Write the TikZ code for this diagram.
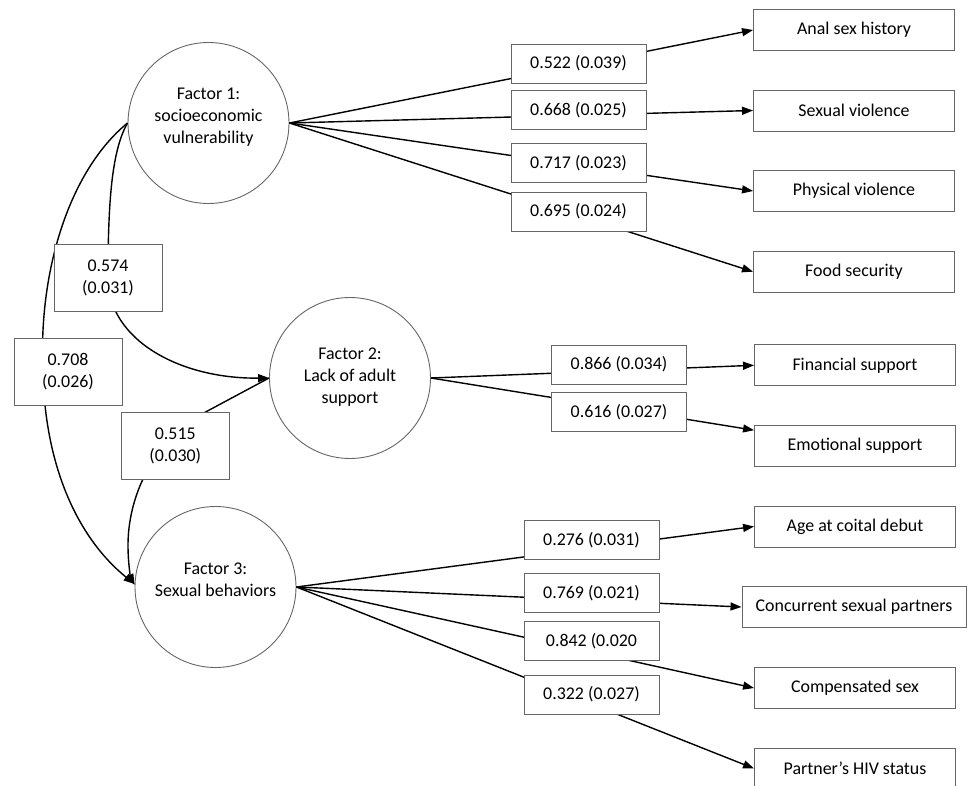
\documentclass[tikz,border=0pt]{standalone}
\usepackage{fontspec}
\setmainfont{Carlito}
\usetikzlibrary{arrows.meta}
\tikzset{
  every node/.style={font=\fontsize{17.9}{22}\selectfont},
  latent/.style={circle, draw=black!60, line width=0.9pt, minimum size=161pt, inner sep=0pt},
  ctext/.style={align=center, inner sep=0pt},
  obs/.style={rectangle, draw=black!60, line width=0.9pt, fill=white, minimum width=201pt, minimum height=41pt, inner sep=0pt},
  lab/.style={rectangle, draw=black!60, line width=0.9pt, fill=white, minimum width=135pt, minimum height=39pt, inner sep=0pt},
  labtwo/.style={rectangle, draw=black!60, line width=0.9pt, fill=white, minimum width=108pt, minimum height=67pt, inner sep=0pt, align=center},
  conn/.style={line width=1.4pt, black},
  arr/.style={conn, -{Triangle[length=11pt,width=8pt]}}
}
\begin{document}
\begin{tikzpicture}[x=1pt,y=-1pt]
\useasboundingbox (0,0) rectangle (967,786);
% latent factors
\node[latent] (f1) at (208.5,123) {};
\node[ctext] (f1t) at (208.5,117) {Factor 1:\\socioeconomic\\vulnerability};
\node[latent] (f2) at (350,378) {};
\node[ctext] (f2t) at (350,377.5) {Factor 2:\\Lack of adult\\support};
\node[latent] (f3) at (215.5,587) {};
\node[ctext] (f3t) at (215.5,580) {Factor 3:\\Sexual behaviors};
% observed
\node[obs] (anal) at (854,30) {Anal sex history};
\node[obs] (sexv) at (854,110.5) {Sexual violence};
\node[obs] (phys) at (854,191) {Physical violence};
\node[obs] (food) at (854,271.7) {Food security};
\node[obs] (fin) at (855,365.3) {Financial support};
\node[obs] (emo) at (855,446.2) {Emotional support};
\node[obs] (age) at (855,526.5) {Age at coital debut};
\node[obs, minimum width=224pt] (conc) at (854,607) {Concurrent sexual partners};
\node[obs] (comp) at (855,688) {Compensated sex};
\node[obs] (hiv) at (855,768.5) {Partner’s HIV status};
% loadings
\draw[arr] (f1.east) -- (anal.west);
\draw[arr] (f1.east) -- (sexv.west);
\draw[arr] (f1.east) -- (phys.west);
\draw[arr] (f1.east) -- (food.west);
\draw[arr] (f2.east) -- (fin.west);
\draw[arr] (f2.east) -- ([yshift=16pt]emo.west);
\draw[arr] (f3.east) -- (age.west);
\draw[arr] (f3.east) -- (conc.west);
\draw[arr] (f3.east) -- (comp.west);
\draw[arr] (f3.east) -- (hiv.west);
% structural paths
\draw[arr] (f1.west) .. controls (112,150) and (108,200) .. (108,278)
   .. controls (108,340) and (180,379) .. (f2.west);
\draw[arr] (f1.west) .. controls (70,170) and (38,270) .. (43,372)
   .. controls (45,470) and (80,540) .. ([yshift=3pt]f3.west);
\draw[arr] (f2.west) -- (200,415) .. controls (150,445) and (128,500) .. (128,545)
   .. controls (128,565) and (131,578) .. ([yshift=2pt]f3.west);
% labels
\node[lab] (l1) at (578.5,63.5) {0.522 (0.039)};
\node[lab] (l2) at (578.5,110.3) {0.668 (0.025)};
\node[lab] (l3) at (578.5,163) {0.717 (0.023)};
\node[lab] (l4) at (578.5,211.5) {0.695 (0.024)};
\node[lab] (l5) at (619,364.5) {0.866 (0.034)};
\node[lab] (l6) at (619,412) {0.616 (0.027)};
\node[lab] (l7) at (591.5,540) {0.276 (0.031)};
\node[lab] (l8) at (591.5,593.3) {0.769 (0.021)};
\node[lab] (l9) at (591.5,641) {0.842 (0.020};
\node[lab] (l10) at (591.5,694.5) {0.322 (0.027)};
\node[labtwo] (c1) at (108,277.7) {0.574\\(0.031)};
\node[labtwo] (c2) at (68,372) {0.708\\(0.026)};
\node[labtwo] (c3) at (175.3,445.7) {0.515\\(0.030)};
\end{tikzpicture}
\end{document}
